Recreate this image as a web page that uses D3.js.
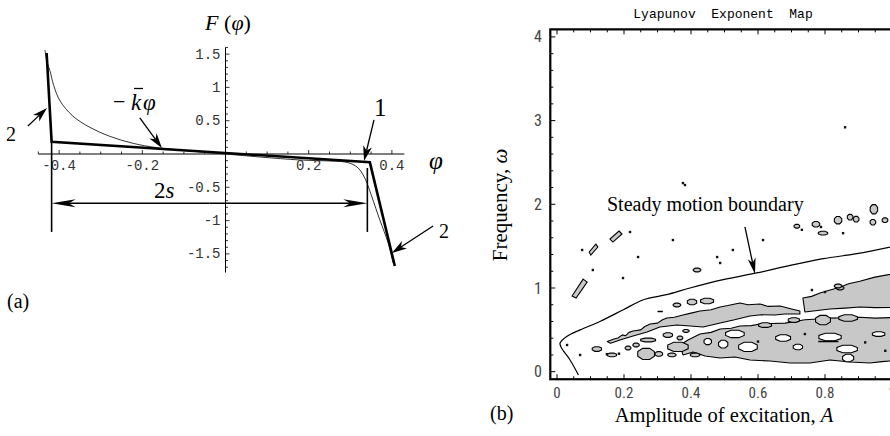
<!DOCTYPE html>
<html><head><meta charset="utf-8">
<script src="https://cdn.jsdelivr.net/npm/d3@7"></script>
<style>body{margin:0;background:#fff} svg{display:block;background:#fff}</style>
</head><body>
<svg id="c" width="890" height="436"></svg>
<script>
// ================= Panel (a) data =================
const phiTicks = [-0.4, -0.2, 0.2, 0.4];
const phiTickLabels = ["-0.4", "-0.2", "0.2", "0.4"];
const fTicks = [1.5, 1, 0.5, -0.5, -1, -1.5];
const fTickLabels = ["1.5", "1", "0.5", "-0.5", "-1", "-1.5"];
// piecewise-linear model (thick)
const thickCurve = [[-0.430, 1.517], [-0.418, 0.185], [0.347, -0.125], [0.407, -1.682]];
// smooth characteristic (thin)
const thinCurve = [[-0.434, 1.562], [-0.429, 1.381], [-0.422, 1.250], [-0.413, 1.030], [-0.398, 0.800],
  [-0.367, 0.570], [-0.326, 0.400], [-0.278, 0.265], [-0.222, 0.160], [-0.165, 0.095], [-0.085, 0.045],
  [0, 0], [0.083, -0.045], [0.179, -0.090], [0.251, -0.105], [0.287, -0.120], [0.304, -0.150],
  [0.319, -0.210], [0.331, -0.315], [0.340, -0.435], [0.352, -0.646], [0.371, -0.991], [0.391, -1.336], [0.403, -1.637]];
const clearance = { left: -0.418, right: 0.341, level: -0.740, leftTop: 0.185, rightTop: -0.21, bottom: -1.17 };
const arrowsA = [
  { from: [-0.475, 0.420], to: [-0.429, 0.691] },   // "2" left
  { from: [-0.206, 0.541], to: [-0.153, 0.090] },   // -k phi
  { from: [0.357, 0.511], to: [0.333, -0.105] },    // "1"
  { from: [0.499, -1.081], to: [0.400, -1.486] }    // "2" right
];

// ================= Panel (b) data =================
const aTicks = [0, 0.2, 0.4, 0.6, 0.8, 1];
const aTickLabels = ["0", "0.2", "0.4", "0.6", "0.8", "1"];
const wTicks = [0, 1, 2, 3, 4];
const wTickLabels = ["0", "1", "2", "3", "4"];
const steadyBoundary = [[0.064, -0.04], [0.039, 0.14], [0.014, 0.28], [0.009, 0.34], [0.029, 0.42], [0.069, 0.50],
  [0.128, 0.60], [0.198, 0.74], [0.258, 0.86], [0.327, 0.92], [0.397, 1.00], [0.496, 1.10], [0.596, 1.18],
  [0.696, 1.27], [0.795, 1.35], [0.895, 1.41], [1.02, 1.51]];
const chaosUpper = [[0.150, 0.360], [0.170, 0.390], [0.182, 0.403], [0.195, 0.440], [0.205, 0.43], [0.215, 0.47],
  [0.227, 0.486], [0.25, 0.50], [0.262, 0.540], [0.278, 0.570], [0.30, 0.58], [0.315, 0.620], [0.328, 0.642],
  [0.35, 0.65], [0.376, 0.677], [0.40, 0.70], [0.427, 0.725], [0.46, 0.74], [0.487, 0.773], [0.51, 0.79],
  [0.546, 0.821], [0.57, 0.80], [0.606, 0.809], [0.63, 0.78], [0.666, 0.785], [0.70, 0.75], [0.725, 0.725],
  [0.725, 0.69], [0.68, 0.69], [0.651, 0.677], [0.61, 0.68], [0.576, 0.665], [0.53, 0.62], [0.487, 0.582],
  [0.436, 0.534], [0.397, 0.546], [0.358, 0.558], [0.307, 0.534], [0.269, 0.474], [0.227, 0.427],
  [0.188, 0.379], [0.160, 0.340]];
const chaosLower = [[0.367, 0.319], [0.391, 0.379], [0.427, 0.450], [0.46, 0.47], [0.487, 0.510], [0.52, 0.52],
  [0.546, 0.546], [0.58, 0.55], [0.606, 0.57], [0.64, 0.575], [0.681, 0.58], [0.71, 0.60], [0.740, 0.62],
  [0.78, 0.63], [0.815, 0.64], [0.86, 0.645], [0.904, 0.65], [0.95, 0.64], [1.03, 0.65], [1.03, 0.140],
  [0.97, 0.12], [0.934, 0.104], [0.875, 0.116], [0.815, 0.140], [0.755, 0.104], [0.696, 0.104],
  [0.636, 0.128], [0.576, 0.140], [0.531, 0.176], [0.487, 0.164], [0.442, 0.188], [0.406, 0.235], [0.376, 0.200]];
const chaosRight = [[0.734, 0.88], [0.76, 0.90], [0.785, 0.94], [0.81, 0.97], [0.845, 1.01], [0.87, 1.05],
  [0.904, 1.08], [0.949, 1.13], [1.03, 1.19], [1.03, 0.77], [0.95, 0.765], [0.904, 0.773], [0.86, 0.76],
  [0.815, 0.749], [0.740, 0.713]];
const pocketDiag = [
  [[0.078, 1.106], [0.090, 1.070], [0.057, 0.880], [0.045, 0.904]],
  [[0.116, 1.525], [0.122, 1.489], [0.101, 1.394], [0.096, 1.430]],
  [[0.185, 1.681], [0.194, 1.645], [0.167, 1.549], [0.158, 1.585]]
];
// small chaotic islands: [A, omega, halfWidthA, halfHeightOmega]
const islands = [[0.266, 0.212, 0.027, 0.072], [0.304, 0.212, 0.012, 0.030], [0.361, 0.296, 0.033, 0.060],
  [0.119, 0.271, 0.015, 0.030], [0.358, 0.797, 0.012, 0.024],
  [0.403, 0.833, 0.015, 0.036], [0.448, 0.845, 0.021, 0.036], [0.212, 0.283, 0.009, 0.024],
  [0.164, 0.200, 0.015, 0.024], [0.412, 0.200, 0.015, 0.024], [0.343, 0.200, 0.013, 0.024],
  [0.272, 0.379, 0.024, 0.024], [0.331, 0.438, 0.015, 0.030], [0.367, 0.403, 0.009, 0.024],
  [0.385, 0.487, 0.010, 0.018], [0.236, 0.319, 0.010, 0.024],
  [0.621, 0.557, 0.021, 0.030], [0.707, 0.617, 0.018, 0.030], [0.794, 0.617, 0.024, 0.060], [0.869, 0.641, 0.030, 0.042],
  [0.773, 1.762, 0.012, 0.036], [0.839, 1.810, 0.012, 0.048], [0.875, 1.846, 0.009, 0.036], [0.893, 1.822, 0.009, 0.036],
  [0.943, 1.786, 0.009, 0.036], [0.946, 1.941, 0.012, 0.06], [0.979, 1.810, 0.009, 0.03],
  [0.794, 1.655, 0.015, 0.024], [0.418, 1.215, 0.012, 0.024], [0.845, 1.0, 0.012, 0.024],
  [0.716, 1.738, 0.009, 0.024], [0.839, 1.024, 0.012, 0.024]];
// regular holes inside chaotic bands: [A, omega, halfWidthA, halfHeightOmega]
const holes = [[0.531, 0.451, 0.030, 0.048], [0.570, 0.296, 0.030, 0.060], [0.675, 0.403, 0.024, 0.042],
  [0.815, 0.415, 0.036, 0.048], [0.866, 0.271, 0.033, 0.048], [0.869, 0.164, 0.018, 0.048],
  [0.719, 0.295, 0.015, 0.036], [0.496, 0.33, 0.015, 0.05], [0.96, 0.45, 0.02, 0.03], [0.45, 0.36, 0.012, 0.04]];
const specks = [[0.075, 1.454], [0.218, 1.669], [0.346, 1.573], [0.525, 1.454], [0.478, 1.370], [0.487, 1.299],
  [0.615, 1.573], [0.376, 2.254], [0.382, 2.23], [0.107, 1.215], [0.197, 1.119], [0.242, 1.370], [0.069, 0.200],
  [0.030, 0.319], [0.761, 0.976], [0.800, 0.952], [0.731, 1.695], [0.788, 1.729], [0.854, 1.655], [0.860, 2.92],
  [0.149, 0.210], [0.185, 0.215], [0.60, 0.36], [0.74, 0.45], [0.92, 0.35], [0.98, 0.25]];
const dashes = [[[0.300, 0.72], [0.316, 0.72]], [[0.78, 0.36], [0.84, 0.36]]];
const boundaryArrow = { from: [0.561, 1.729], to: [0.591, 1.167] };

// ================= drawing =================
const svg = d3.select("#c");
svg.append("rect").attr("width", 890).attr("height", 436).attr("fill", "#fff");
const serif = "'Liberation Serif','Times New Roman',serif";
const mono = "'Liberation Mono','Courier New',monospace";

function arrowHead(g, x1, y1, x2, y2, L, w, sw) {
  const ang = Math.atan2(y2 - y1, x2 - x1);
  const c = Math.cos(ang), s = Math.sin(ang);
  const pt = (a, b) => [x2 - a * c + b * s, y2 - a * s - b * c];
  const bx = pt(L * 0.72, 0);
  g.append("line").attr("x1", x1).attr("y1", y1).attr("x2", bx[0]).attr("y2", bx[1])
    .attr("stroke", "#000").attr("stroke-width", sw || 1.3);
  const p = [[x2, y2], pt(L, w), pt(L * 0.72, 0), pt(L, -w)];
  g.append("path").attr("d", "M" + p.map(d => d.join(",")).join("L") + "Z").attr("fill", "#000");
}

// ---------- Panel (a)
const xA = d3.scaleLinear().domain([-0.45, 0.43]).range([225.5 - 0.45 * 416, 225.5 + 0.43 * 416]);
const yA = d3.scaleLinear().domain([1.6, -1.78]).range([154 - 1.6 * 66.6, 154 + 1.78 * 66.6]);
const gA = svg.append("g");
gA.append("line").attr("x1", xA(-0.45)).attr("x2", xA(0.43)).attr("y1", yA(0)).attr("y2", yA(0)).attr("stroke", "#000").attr("stroke-width", 1);
gA.append("line").attr("x1", xA(0)).attr("x2", xA(0)).attr("y1", yA(1.6)).attr("y2", yA(-1.78)).attr("stroke", "#000").attr("stroke-width", 1);
d3.range(-9, 9).forEach(i => {
  if (i === 0) return;
  const v = i * 0.05, major = i % 4 === 0;
  gA.append("line").attr("x1", xA(v)).attr("x2", xA(v)).attr("y1", yA(0)).attr("y2", yA(0) - (major ? 4 : 2.5)).attr("stroke", "#000").attr("stroke-width", 0.8);
});
d3.range(-17, 17).forEach(i => {
  if (i === 0) return;
  const v = i * 0.1, major = i % 5 === 0;
  gA.append("line").attr("y1", yA(v)).attr("y2", yA(v)).attr("x1", xA(0)).attr("x2", xA(0) + (major ? 4 : 2.5)).attr("stroke", "#000").attr("stroke-width", 0.8);
});
gA.selectAll(".xl").data(phiTicks).join("text").attr("x", d => xA(d)).attr("y", yA(0) + 16)
  .attr("text-anchor", "middle").attr("font-family", mono).attr("font-size", 14).attr("fill", "#333")
  .text((d, i) => phiTickLabels[i]);
gA.selectAll(".yl").data(fTicks).join("text").attr("x", xA(0) - 5).attr("y", d => yA(d) + 4.5)
  .attr("text-anchor", "end").attr("font-family", mono).attr("font-size", 14).attr("fill", "#333")
  .text((d, i) => fTickLabels[i]);

gA.append("path").attr("d", d3.line().x(d => xA(d[0])).y(d => yA(d[1])).curve(d3.curveCatmullRom)(thinCurve))
  .attr("fill", "none").attr("stroke", "#333").attr("stroke-width", 1);
gA.append("path").attr("d", d3.line().x(d => xA(d[0])).y(d => yA(d[1]))(thickCurve))
  .attr("fill", "none").attr("stroke", "#000").attr("stroke-width", 2.6).attr("stroke-linejoin", "miter");

// clearance 2s
gA.append("line").attr("x1", xA(clearance.left)).attr("x2", xA(clearance.left)).attr("y1", yA(clearance.leftTop)).attr("y2", yA(clearance.bottom)).attr("stroke", "#000").attr("stroke-width", 1.6);
gA.append("line").attr("x1", xA(clearance.right)).attr("x2", xA(clearance.right)).attr("y1", yA(clearance.rightTop)).attr("y2", yA(clearance.bottom)).attr("stroke", "#000").attr("stroke-width", 1.6);
const xm = (xA(clearance.left) + xA(clearance.right)) / 2;
arrowHead(gA, xm, yA(clearance.level), xA(clearance.left), yA(clearance.level), 24, 4, 1.4);
arrowHead(gA, xm, yA(clearance.level), xA(clearance.right), yA(clearance.level), 24, 4, 1.4);
arrowsA.forEach(a => arrowHead(gA, xA(a.from[0]), yA(a.from[1]), xA(a.to[0]), yA(a.to[1]), 15, 4.5, 1.3));

// labels (a)
const fl = gA.append("text").attr("x", 228).attr("y", 30).attr("text-anchor", "middle").attr("font-family", serif).attr("font-size", 22);
fl.append("tspan").attr("font-style", "italic").text("F");
fl.append("tspan").text(" (");
fl.append("tspan").attr("font-style", "italic").text("φ");
fl.append("tspan").text(")");
gA.append("text").attr("x", 429).attr("y", 169).attr("font-family", serif).attr("font-size", 25).attr("font-style", "italic").text("φ");
gA.append("text").attr("x", 6).attr("y", 141).attr("font-family", serif).attr("font-size", 20).text("2");
gA.append("text").attr("x", 439).attr("y", 238).attr("font-family", serif).attr("font-size", 20).text("2");
gA.append("text").attr("x", 374).attr("y", 116).attr("font-family", serif).attr("font-size", 25).text("1");
gA.append("text").attr("x", 113).attr("y", 109).attr("font-family", serif).attr("font-size", 22).text("−");
gA.append("text").attr("x", 131).attr("y", 110).attr("font-family", serif).attr("font-size", 23).attr("font-style", "italic").text("k");
gA.append("line").attr("x1", 134).attr("x2", 143).attr("y1", 88.5).attr("y2", 88.5).attr("stroke", "#000").attr("stroke-width", 1.3);
gA.append("text").attr("x", 143).attr("y", 110).attr("font-family", serif).attr("font-size", 23).attr("font-style", "italic").text("φ");
const s2 = gA.append("text").attr("x", 154).attr("y", 198).attr("font-family", serif).attr("font-size", 23);
s2.append("tspan").text("2");
s2.append("tspan").attr("font-style", "italic").text("s");
gA.append("text").attr("x", 7).attr("y", 308).attr("font-family", serif).attr("font-size", 20).text("(a)");

// ---------- Panel (b)
const xB = d3.scaleLinear().domain([-0.02, 1.02]).range([557 - 0.02 * 335, 557 + 1.02 * 335]);
const yB = d3.scaleLinear().domain([-0.09, 4.09]).range([371.7 + 0.09 * 83.7, 371.7 - 4.09 * 83.7]);
const gB = svg.append("g");
const defs = svg.append("defs");
defs.append("clipPath").attr("id", "frameClip").append("rect")
  .attr("x", xB(-0.02)).attr("y", yB(4.09)).attr("width", xB(1.02) - xB(-0.02)).attr("height", yB(-0.09) - yB(4.09));
const plot = gB.append("g").attr("clip-path", "url(#frameClip)");
const poly = d3.line().x(d => xB(d[0])).y(d => yB(d[1])).curve(d3.curveLinearClosed);
const gray = "#c8c8c8";
// octagonal contour-like blob outline
function blobPoints(h) {
  return d3.range(8).map(k => {
    const t = (k + 0.5) / 8 * 2 * Math.PI;
    return [h[0] + h[2] * Math.cos(t), h[1] + h[3] * Math.sin(t)];
  });
}
[chaosLower, chaosUpper, chaosRight].forEach(p =>
  plot.append("path").attr("d", poly(p)).attr("fill", gray).attr("stroke", "#000").attr("stroke-width", 1.1).attr("stroke-linejoin", "round"));
pocketDiag.forEach(p =>
  plot.append("path").attr("d", poly(p)).attr("fill", gray).attr("stroke", "#000").attr("stroke-width", 1.1));
holes.forEach(h => plot.append("path").attr("d", poly(blobPoints(h))).attr("fill", "#fff").attr("stroke", "#000").attr("stroke-width", 1.1));
islands.forEach(h => plot.append("path").attr("d", poly(blobPoints(h))).attr("fill", gray).attr("stroke", "#000").attr("stroke-width", 1.1));
specks.forEach(s => plot.append("rect").attr("x", xB(s[0]) - 1.2).attr("y", yB(s[1]) - 1.2).attr("width", 2.4).attr("height", 2.4).attr("fill", "#111"));
dashes.forEach(d => plot.append("path").attr("d", d3.line().x(p => xB(p[0])).y(p => yB(p[1]))(d)).attr("stroke", "#000").attr("stroke-width", 1.6));
plot.append("path").attr("d", d3.line().x(d => xB(d[0])).y(d => yB(d[1])).curve(d3.curveCatmullRom)(steadyBoundary))
  .attr("fill", "none").attr("stroke", "#000").attr("stroke-width", 1.2);

// frame
gB.append("rect").attr("x", xB(-0.02)).attr("y", yB(4.09)).attr("width", xB(1.02) - xB(-0.02)).attr("height", yB(-0.09) - yB(4.09))
  .attr("fill", "none").attr("stroke", "#000").attr("stroke-width", 2.2);
d3.range(0, 21).forEach(i => {
  const v = i * 0.2, major = i % 5 === 0;
  gB.append("line").attr("x1", xB(-0.02)).attr("x2", xB(-0.02) + (major ? 5 : 3)).attr("y1", yB(v)).attr("y2", yB(v)).attr("stroke", "#000").attr("stroke-width", 1);
});
d3.range(0, 21).forEach(i => {
  const v = i * 0.05, major = i % 4 === 0;
  [[yB(4.09), 1], [yB(-0.09), -1]].forEach(([y0, dir]) =>
    gB.append("line").attr("x1", xB(v)).attr("x2", xB(v)).attr("y1", y0).attr("y2", y0 + dir * (major ? 5 : 3)).attr("stroke", "#000").attr("stroke-width", 1));
});
const sans = "'Liberation Sans Narrow','Roboto Condensed','Liberation Sans',Arial,sans-serif";
gB.selectAll(".bx").data(aTicks).join("text").attr("x", d => xB(d)).attr("y", 398)
  .attr("text-anchor", "middle").attr("font-family", sans).attr("font-size", 15).attr("fill", "#444")
  .text((d, i) => aTickLabels[i]);
gB.selectAll(".by").data(wTicks).join("text").attr("x", 542).attr("y", d => yB(d) + 5.5)
  .attr("text-anchor", "end").attr("font-family", sans).attr("font-size", 16).attr("fill", "#444")
  .text((d, i) => wTickLabels[i]);
arrowHead(gB, xB(boundaryArrow.from[0]), yB(boundaryArrow.from[1]), xB(boundaryArrow.to[0]), yB(boundaryArrow.to[1]), 16, 4, 1.3);

gB.append("text").attr("x", 723).attr("y", 18).attr("text-anchor", "middle").attr("font-family", mono).attr("font-size", 13)
  .attr("xml:space", "preserve").style("white-space", "pre").text("Lyapunov  Exponent  Map");
gB.append("text").attr("x", 607).attr("y", 211).attr("font-family", serif).attr("font-size", 20).text("Steady motion boundary");
const xl = gB.append("text").attr("x", 724).attr("y", 422).attr("text-anchor", "middle").attr("font-family", serif).attr("font-size", 20.5);
xl.append("tspan").text("Amplitude of excitation, ");
xl.append("tspan").attr("font-style", "italic").text("A");
const yl = gB.append("text").attr("transform", "translate(507,205) rotate(-90)").attr("text-anchor", "middle").attr("font-family", serif).attr("font-size", 21);
yl.append("tspan").text("Frequency, ");
yl.append("tspan").attr("font-style", "italic").text("ω");
gB.append("text").attr("x", 490).attr("y", 420).attr("font-family", serif).attr("font-size", 20).text("(b)");
</script>
</body></html>
